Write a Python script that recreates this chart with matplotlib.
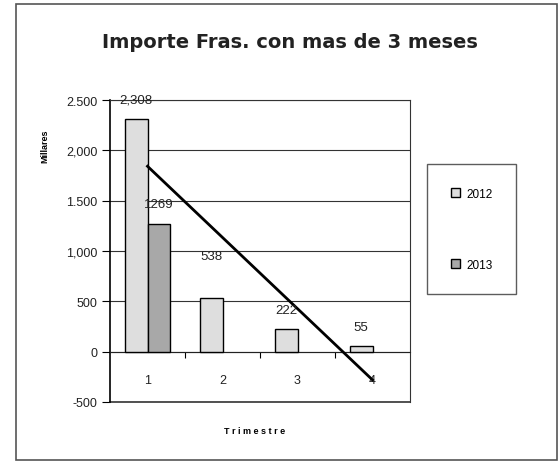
import numpy as np
import matplotlib
matplotlib.use("Agg")
import matplotlib.pyplot as plt
from matplotlib.patches import Rectangle

plt.rcParams['font.family'] = ['Liberation Sans', 'DejaVu Sans']

categories = [1, 2, 3, 4]
cat_labels = ["1", "2", "3", "4"]
series_2012 = [2308, 538, 222, 55]
series_2013 = [1269, np.nan, np.nan, np.nan]
labels_2012 = ["2,308", "538", "222", "55"]
labels_2013 = ["1269", "", "", ""]
ytick_values = [-500, 0, 500, 1000, 1500, 2000, 2500]
ytick_labels = ["-500", "0", "500", "1,000", "1.500", "2,000", "2.500"]

fig = plt.figure(figsize=(5.6, 4.64), dpi=100)
ax = fig.add_axes([110/560, 1-403/464, 300/560, 302/464])

x = np.array(categories, dtype=float)
w = 0.30
b1 = ax.bar(x - w/2, series_2012, width=w, color="#dedede", edgecolor="black", linewidth=1.0, label="2012", zorder=3)
b2 = ax.bar(x + w/2, series_2013, width=w, color="#a8a8a8", edgecolor="black", linewidth=1.0, label="2013", zorder=3)

# linear trendline of 2012 series (as Excel draws it)
coef = np.polyfit(x, series_2012, 1)
ax.plot(x[[0, -1]], np.polyval(coef, x[[0, -1]]), color="black", lw=2.0, zorder=4)

offsets_2012 = [14, 30, 14, 14]
for xi, v, lab, off in zip(x - w/2, series_2012, labels_2012, offsets_2012):
    ax.annotate(lab, (xi, v), xytext=(0, off), textcoords="offset points",
                ha="center", va="center", fontsize=9.5, color="#222222", zorder=5)
for xi, v, lab in zip(x + w/2, series_2013, labels_2013):
    if lab:
        ax.annotate(lab, (xi, v), xytext=(0, 14), textcoords="offset points",
                    ha="center", va="center", fontsize=9.5, color="#222222", zorder=5)

ax.set_xlim(0.5, 4.5)
ax.set_ylim(-500, 2500)
ax.set_yticks(ytick_values)
ax.set_yticklabels(ytick_labels, fontsize=9, color="#222222")
ax.yaxis.grid(True, color="#333333", lw=0.8)
ax.axhline(ax.get_ylim()[0], color="#333333", lw=1.2, clip_on=False, zorder=2)
ax.set_axisbelow(True)
ax.tick_params(axis="y", direction="out", length=6, width=0.8, pad=3)

ax.spines["bottom"].set_position(("data", 0))
for s in ["top", "right", "left"]:
    ax.spines[s].set_color("#333333")
    ax.spines[s].set_linewidth(0.8)
ax.spines["left"].set_linewidth(1.2)
ax.spines["left"].set_color("black")
ax.spines["bottom"].set_color("#222222")
ax.set_xticks(categories)
ax.set_xticklabels(cat_labels, fontsize=9, color="#222222")
ax.set_xticks([1.5, 2.5, 3.5], minor=True)
ax.tick_params(axis="x", which="major", length=0, pad=16)
ax.tick_params(axis="x", which="minor", length=4, width=0.8, direction="out")

fig.text(255/560, 1-432/464, "T r i m e s t r e", ha="center", va="center", fontsize=6.5, fontweight="bold")
fig.text(45/560, 1-146/464, "Millares", ha="center", va="center", fontsize=6.5, fontweight="bold", rotation=90)
fig.text(290/560, 1-42/464, "Importe Fras. con mas de 3 meses", ha="center", va="center",
         fontsize=14, fontweight="bold", color="#222222", family="DejaVu Sans")

leg = fig.legend(handles=[b1, b2], labels=["2012", "2013"], loc="upper left",
                 bbox_to_anchor=(427/560, 1-165/464), borderaxespad=0, fontsize=8.5, frameon=True,
                 fancybox=False, edgecolor="#333333", labelspacing=5.0, borderpad=2.0,
                 handlelength=0.8, handleheight=0.8, handletextpad=0.5)
leg.get_frame().set_linewidth(1.0)

fig.patches.append(Rectangle((16/560, 1-461/464), 541/560, 456/464, transform=fig.transFigure,
                             fill=False, edgecolor="#555555", lw=1.2))

fig.savefig("out.png", dpi=100)
